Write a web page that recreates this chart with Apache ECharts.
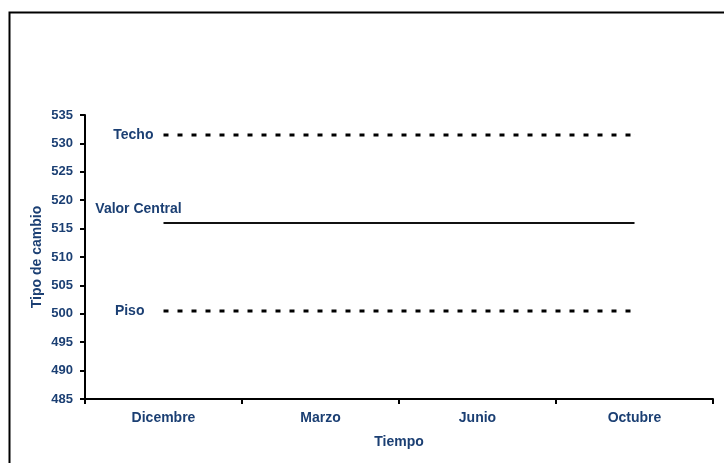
<!DOCTYPE html>
<html>
<head>
<meta charset="utf-8">
<script src="https://cdn.jsdelivr.net/npm/echarts@6/dist/echarts.min.js"></script>
<style>
  html, body { margin: 0; padding: 0; background: #fff; }
  #chart { width: 724px; height: 463px; }
</style>
</head>
<body>
<div id="chart"></div>
<script>
// Exchange-rate band: ceiling, central value and floor over time
const categories = ['Dicembre', 'Marzo', 'Junio', 'Octubre'];
const techo = [531.5, 531.5, 531.5, 531.5];
const valorCentral = [516, 516, 516, 516];
const piso = [500.5, 500.5, 500.5, 500.5];
const seriesNames = ['Techo', 'Valor Central', 'Piso'];

const navy = '#1B3F73';
const fontFamily = 'Liberation Sans, Arial, sans-serif';

// Put the series name as a label beside the first point only
function withFirstLabel(values, labelOpts) {
  return values.map((v, i) => i === 0
    ? { value: v, label: Object.assign({ show: true, formatter: '{a}', color: navy, fontWeight: 'bold', fontSize: 14, fontFamily: fontFamily }, labelOpts) }
    : v);
}

const chart = echarts.init(document.getElementById('chart'), null, { renderer: 'canvas' });
chart.setOption({
  animation: false,
  backgroundColor: '#fff',
  graphic: [{
    type: 'rect',
    left: 7, top: 10,
    shape: { width: 740, height: 480 },
    style: { fill: 'none', stroke: '#000', lineWidth: 2 },
    silent: true
  }],
  grid: { left: 85, right: 11, top: 115, bottom: 64 },
  xAxis: {
    type: 'category',
    data: categories,
    boundaryGap: true,
    name: 'Tiempo',
    nameLocation: 'middle',
    nameGap: 36,
    nameMoveOverlap: false,
    nameTextStyle: { color: navy, fontWeight: 'bold', fontSize: 14, fontFamily: fontFamily },
    axisLine: { lineStyle: { color: '#000', width: 2 } },
    axisTick: { show: true, length: 5, lineStyle: { color: '#000', width: 2 } },
    axisLabel: { color: navy, fontWeight: 'bold', fontSize: 14, fontFamily: fontFamily, margin: 12 },
    splitLine: { show: false }
  },
  yAxis: {
    type: 'value',
    min: 485, max: 535, interval: 5,
    name: 'Tipo de cambio',
    nameLocation: 'middle',
    nameGap: 41,
    nameMoveOverlap: false,
    nameTextStyle: { color: navy, fontWeight: 'bold', fontSize: 14, fontFamily: fontFamily },
    axisLine: { show: true, lineStyle: { color: '#000', width: 2 } },
    axisTick: { show: true, length: 5, lineStyle: { color: '#000', width: 2 } },
    axisLabel: { color: navy, fontWeight: 'bold', fontSize: 13, fontFamily: fontFamily, margin: 12 },
    splitLine: { show: false }
  },
  series: [
    {
      name: seriesNames[0],
      type: 'line',
      data: withFirstLabel(techo, { position: 'left', distance: 10 }),
      symbol: 'circle', symbolSize: 0.1,
      lineStyle: { color: '#000', width: 3, type: [5, 9] },
      itemStyle: { color: '#000' }
    },
    {
      name: seriesNames[1],
      type: 'line',
      data: withFirstLabel(valorCentral, { position: 'top', distance: 7, offset: [-25, 0] }),
      symbol: 'circle', symbolSize: 0.1,
      lineStyle: { color: '#111', width: 2 },
      itemStyle: { color: '#111' }
    },
    {
      name: seriesNames[2],
      type: 'line',
      data: withFirstLabel(piso, { position: 'left', distance: 19 }),
      symbol: 'circle', symbolSize: 0.1,
      lineStyle: { color: '#000', width: 3, type: [5, 9] },
      itemStyle: { color: '#000' }
    }
  ]
});
</script>
</body>
</html>
